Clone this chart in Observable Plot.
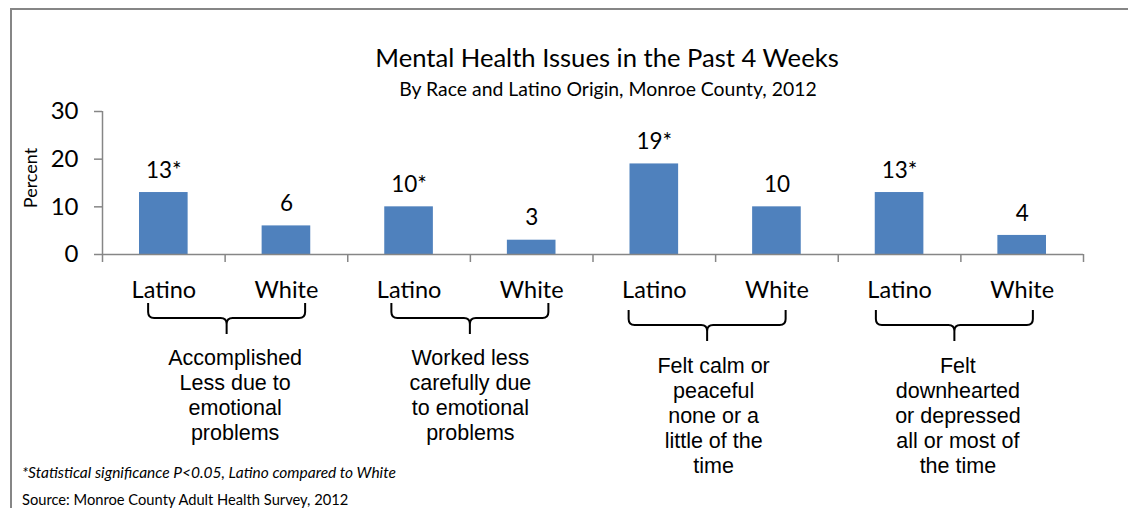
<!DOCTYPE html>
<html>
<head>
<meta charset="utf-8">
<script src="https://cdn.jsdelivr.net/npm/d3@7"></script>
<script src="https://cdn.jsdelivr.net/npm/@observablehq/plot@0.6"></script>
<style>
  body { margin: 0; background: #fff; }
  #wrap { position: relative; width: 1128px; height: 508px; overflow: hidden; font-family: Lato, sans-serif; background: #fff; }
  #border { position: absolute; left: 10px; top: 8px; width: 1130px; height: 520px; border-left: 2px solid #868686; border-top: 2px solid #868686; }
  #chart { position: absolute; left: 0; top: 0; }
  .t { position: absolute; white-space: nowrap; color: #000; line-height: 1; }
  .c { transform: translate(-50%, -50%); }
</style>
</head>
<body>
<div id="wrap">
  <div id="border"></div>
  <div id="chart"></div>
  <div class="t c" id="title" style="left:607px; top:58px; font-size:25.6px;"></div>
  <div class="t c" id="subtitle" style="left:608px; top:89px; font-size:19.4px;"></div>
  <div class="t" id="ylabel" style="left:30px; top:178px; font-size:18px; transform: translate(-50%, -50%) rotate(-90deg);"></div>
  <div class="t" id="note" style="left:22px; top:465px; font-size:15.5px; font-style:italic;"></div>
  <div class="t" id="source" style="left:22px; top:492px; font-size:14.7px;"></div>
</div>
<script>
// ---- data ----
const titleText = "Mental Health Issues in the Past 4 Weeks";
const subtitleText = "By Race and Latino Origin, Monroe County, 2012";
const yLabel = "Percent";
const noteText = "*Statistical significance P<0.05, Latino compared to White";
const sourceText = "Source: Monroe County Adult Health Survey, 2012";

const categories = ["Latino", "White", "Latino", "White", "Latino", "White", "Latino", "White"];
const values = [13, 6, 10, 3, 19, 10, 13, 4];
const valueLabels = ["13*", "6", "10*", "3", "19*", "10", "13*", "4"];
const groupLabels = [
  "Accomplished\nLess due to\nemotional\nproblems",
  "Worked less\ncarefully due\nto emotional\nproblems",
  "Felt calm or\npeaceful\nnone or a\nlittle of the\ntime",
  "Felt\ndownhearted\nor depressed\nall or most of\nthe time"
];
const yTicks = [0, 10, 20, 30];

// ---- styles (per group offsets in px) ----
const textDx = [10, 0, -2, -3];
const textDrop = [0, 0, 8, 8];
const braceDx = [2, 0, -8, -6];
const braceDrop = [0, 0, 7, 7];

document.getElementById("title").textContent = titleText;
document.getElementById("subtitle").textContent = subtitleText;
document.getElementById("ylabel").textContent = yLabel;
document.getElementById("note").textContent = noteText;
document.getElementById("source").textContent = sourceText;

const data = categories.map((c, i) => ({ i, race: c, value: values[i], label: valueLabels[i] }));
const groups = groupLabels.map((text, g) => ({ g, text, first: g * 2, last: g * 2 + 1 }));
const boundaries = d3.range(categories.length + 1);

const gray = "#868686";
const textMarks = groups.map(gr => Plot.text([gr], {
  x: d => (d.first + d.last + 1) / 2,
  y: () => 0,
  text: "text",
  lineAnchor: "top",
  dy: 93 + textDrop[gr.g],
  dx: textDx[gr.g],
  fontFamily: "'Liberation Sans', Arial, sans-serif",
  fontSize: 21.5,
  lineHeight: 1.16,
  fill: "#000"
}));

const plot = Plot.plot({
  width: 1128,
  height: 508,
  marginLeft: 102,
  marginRight: 45,
  marginTop: 111,
  marginBottom: 254,
  x: { domain: [0, categories.length], axis: null },
  y: { domain: [0, 30], axis: null },
  style: { fontFamily: "Lato, sans-serif", background: "transparent", overflow: "visible" },
  marks: [
    Plot.rectY(data, { x1: "i", x2: d => d.i + 1, y: "value", insetLeft: 37, insetRight: 37, fill: "#4F81BD" }),
    Plot.axisY({ ticks: yTicks, tickSize: 8, tickPadding: 16, fontSize: 24, stroke: gray, strokeWidth: 1.5, fill: "#000", label: null }),
    Plot.axisX({ ticks: boundaries, tickSize: 8, tickFormat: () => "", stroke: gray, strokeWidth: 1.5, label: null }),
    Plot.ruleX([0], { y1: 0, y2: 30, stroke: gray, strokeWidth: 1.5 }),
    Plot.ruleY([0], { stroke: gray, strokeWidth: 1.5 }),
    Plot.text(data, { x: d => d.i + 0.5, y: "value", text: "label", dy: -22, fontSize: 22.5, fill: "#000" }),
    Plot.text(data, { x: d => d.i + 0.5, y: () => 0, text: "race", dy: 36, fontSize: 23.5, fill: "#000" }),
    ...textMarks
  ]
});

document.getElementById("chart").appendChild(plot);

// curly braces under each group, positioned with the plot's own scales
const sx = plot.scale("x");
const sy = plot.scale("y");
const y0 = sy.apply(0);
const svg = d3.select(plot);
groups.forEach(gr => {
  const c = sx.apply((gr.first + gr.last + 1) / 2) + braceDx[gr.g];
  const L = c - 78.5, R = c + 78.5;
  const top = y0 + 49 + braceDrop[gr.g];
  const h = y0 + 64 + braceDrop[gr.g];
  const tip = y0 + 80 + braceDrop[gr.g];
  const r = 6;
  const p = `M${L},${top} V${h - r} Q${L},${h} ${L + r},${h} H${c - r} Q${c},${h} ${c},${h + r} V${tip}` +
            ` M${R},${top} V${h - r} Q${R},${h} ${R - r},${h} H${c + r} Q${c},${h} ${c},${h + r}`;
  svg.append("path").attr("d", p).attr("fill", "none").attr("stroke", "#000").attr("stroke-width", 2);
});
</script>
</body>
</html>
